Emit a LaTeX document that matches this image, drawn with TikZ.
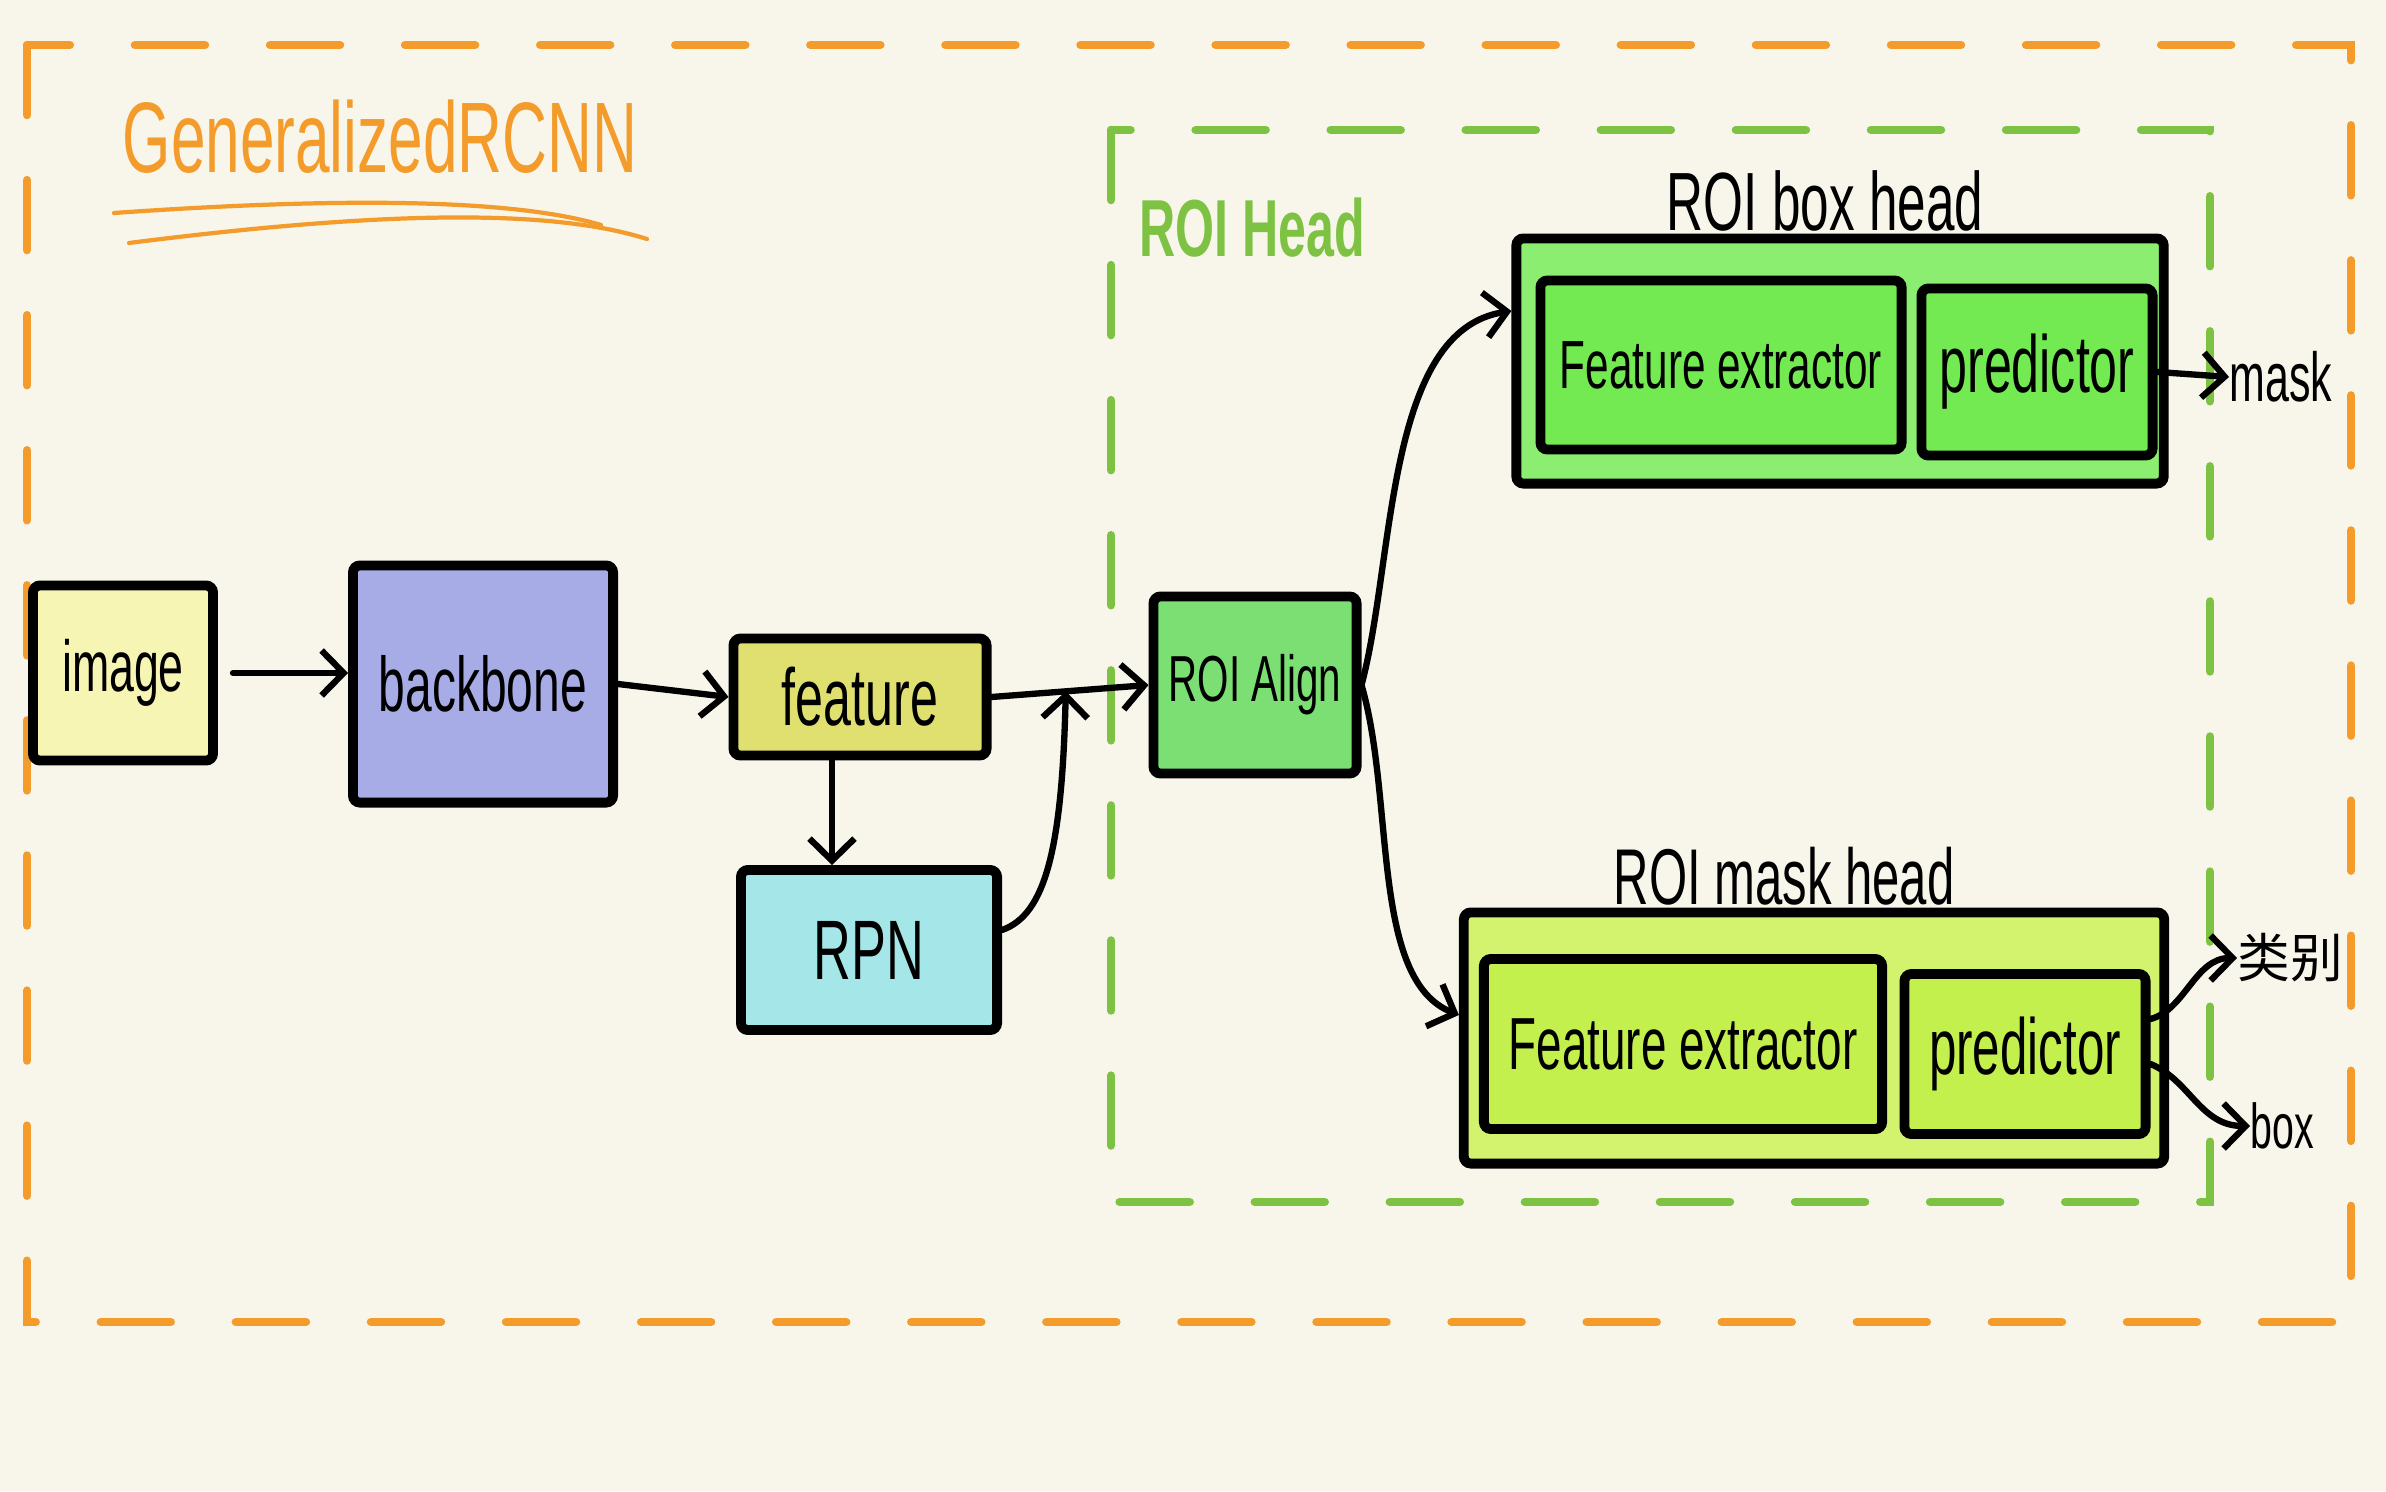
\documentclass[tikz,border=0pt]{standalone}
\usepackage{fontspec}
\setmainfont{Liberation Sans}
\newfontfamily\hand[FakeStretch=0.62]{Liberation Sans}
\newfontfamily\cjk{Noto Sans CJK SC}
\usetikzlibrary{arrows.meta,calc}
\newcommand\hsz[1]{\hand\fontsize{#1}{#1}\selectfont}
\definecolor{bgc}{HTML}{F8F6EA}
\definecolor{orc}{HTML}{F39C2B}
\definecolor{grc}{HTML}{7DC243}
\definecolor{imgc}{HTML}{F6F5B4}
\definecolor{bbc}{HTML}{A8ACE6}
\definecolor{featc}{HTML}{DFE070}
\definecolor{rpnc}{HTML}{A5E7E8}
\definecolor{roic}{HTML}{7BDF74}
\definecolor{bhc}{HTML}{8CEE70}
\definecolor{bhin}{HTML}{74EA52}
\definecolor{mhc}{HTML}{D3F36E}
\definecolor{mhin}{HTML}{C4F04E}
\tikzset{
  box/.style={draw=black, line width=2.8pt, inner sep=0pt, rounded corners=2pt},
  lab/.style={inner sep=0pt, text=black},
  arr/.style={draw=black, line width=1.8pt, line cap=round, -{Straight Barb[length=2.2mm,width=4.5mm,line width=1.8pt]}},
  frame/.style={line width=2.4pt, line cap=round, dash pattern=on 0.7cm off 0.65cm}
}
\begin{document}
\begin{tikzpicture}[x=0.01cm,y=-0.01cm]
\fill[bgc] (0,0) rectangle (2386,1491);
\useasboundingbox (0,0) rectangle (2386,1491);
% frames
\draw[frame, orc] (27,45) rectangle (2351,1322);
\draw[frame, grc] (1111,130) rectangle (2210,1202);
% title
\node[lab, text=orc, font=\hsz{28.5}] (title) at (380,137) {GeneralizedRCNN};
\draw[orc, line width=1.2pt, line cap=round] (114,213) .. controls (300,200) and (500,195) .. (601,225);
\draw[orc, line width=1.2pt, line cap=round] (129,243) .. controls (350,215) and (540,205) .. (647,239);
\node[lab, text=grc, font=\hsz{23}\bfseries] (roihead) at (1252,228) {ROI Head};
% main boxes
\node[box, fill=imgc, minimum width=1.80cm, minimum height=1.75cm, font=\hsz{20.5}] (image) at (123,673) {image};
\node[box, fill=bbc, minimum width=2.60cm, minimum height=2.37cm, font=\hsz{22}] (backbone) at (483,684) {backbone};
\node[box, fill=featc, minimum width=2.53cm, minimum height=1.17cm, font=\hsz{23}] (feature) at (860,697) {feature};
\node[box, fill=rpnc, minimum width=2.56cm, minimum height=1.60cm, font=\hsz{24}] (rpn) at (869,950) {RPN};
\node[box, fill=roic, minimum width=2.03cm, minimum height=1.77cm, font=\hsz{18.5}] (roialign) at (1255,685) {ROI Align};
% box head
\node[box, fill=bhc, minimum width=6.47cm, minimum height=2.45cm] (bhead) at (1840,361) {};
\node[box, fill=bhin, minimum width=3.61cm, minimum height=1.69cm, font=\hsz{19.4}] (bfe) at (1721,365) {Feature extractor};
\node[box, fill=bhin, minimum width=2.31cm, minimum height=1.67cm, font=\hsz{23}] (bpred) at (2037,372) {predictor};
\node[lab, font=\hsz{23.5}] (bhlab) at (1825,201) {ROI box head};
% mask head
\node[box, fill=mhc, minimum width=7.00cm, minimum height=2.51cm] (mhead) at (1814,1038) {};
\node[box, fill=mhin, minimum width=3.98cm, minimum height=1.70cm, font=\hsz{21}] (mfe) at (1683,1044) {Feature extractor};
\node[box, fill=mhin, minimum width=2.41cm, minimum height=1.60cm, font=\hsz{22.6}] (mpred) at (2025,1054) {predictor};
\node[lab, font=\hsz{22.5}] (mhlab) at (1784,876) {ROI mask head};
% outputs
\node[lab, anchor=west, font=\hsz{19.7}] (masklab) at (2229,377) {mask};
\node[lab, anchor=west, font=\cjk\fontsize{15}{15}\selectfont] (cls) at (2237,958) {类别};
\node[lab, anchor=west, font=\hsz{18}] (boxlab) at (2250,1126) {box};
% connectors
\coordinate (join) at ($(feature.east)!0.473!(roialign.west)$);
\draw[arr, shorten <=0.15cm] (image.east) -- (image.east -| backbone.west);
\draw[arr] (backbone.east) -- (feature.west);
\draw[arr] (feature.east) -- (roialign.west);
\draw[arr] ([xshift=-0.28cm]feature.south) -- ([xshift=-0.28cm]feature.south |- rpn.north);
\draw[arr] ([yshift=0.2cm]rpn.east) .. controls (1045,915) and (1062,850) .. (join);
\draw[arr] (roialign.east) .. controls (1395,560) and (1385,330) .. ([yshift=0.5cm]bhead.west);
\draw[arr] (roialign.east) .. controls (1395,800) and (1370,980) .. ([yshift=0.23cm]mhead.west);
\draw[arr] (bpred.east) -- (masklab.west);
\draw[arr] ([yshift=0.35cm]mpred.east) .. controls (2185,1010) and (2195,958) .. (cls.west);
\draw[arr] ([yshift=-0.1cm]mpred.east) .. controls (2190,1080) and (2200,1126) .. (boxlab.west);
\end{tikzpicture}
\end{document}
